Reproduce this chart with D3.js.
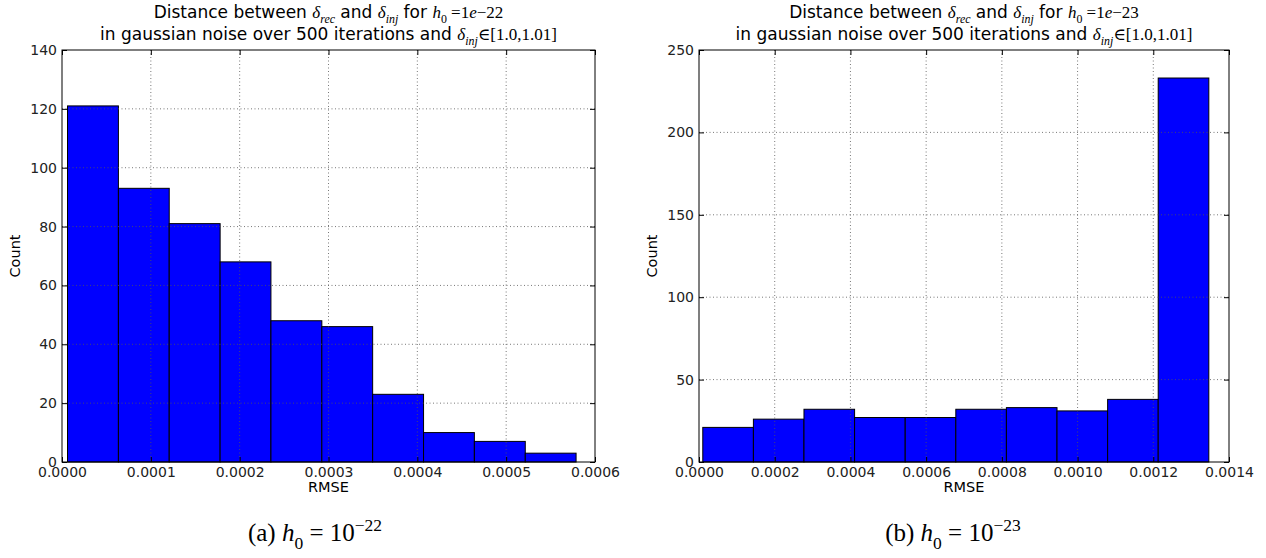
<!DOCTYPE html>
<html>
<head>
<meta charset="utf-8">
<script src="https://cdn.jsdelivr.net/npm/d3@7"></script>
<style>
  body { margin: 0; background: #fff; }
  text { white-space: pre; }
</style>
</head>
<body>
<svg id="chart"></svg>
<script>
// histogram (a): h0 = 1e-22
const edgesA = [0.0000062, 0.0000635, 0.0001207, 0.0001780, 0.0002352, 0.0002925,
                0.0003497, 0.0004070, 0.0004642, 0.0005215, 0.0005787];
const countsA = [121, 93, 81, 68, 48, 46, 23, 10, 7, 3];
const xTicksA = [0, 0.0001, 0.0002, 0.0003, 0.0004, 0.0005, 0.0006];
const yTicksA = [0, 20, 40, 60, 80, 100, 120, 140];

// histogram (b): h0 = 1e-23
const edgesB = [0.0000100, 0.0001437, 0.0002773, 0.0004110, 0.0005447, 0.0006784,
                0.0008120, 0.0009457, 0.0010794, 0.0012130, 0.0013467];
const countsB = [21, 26, 32, 27, 27, 32, 33, 31, 38, 233];
const xTicksB = [0, 0.0002, 0.0004, 0.0006, 0.0008, 0.0010, 0.0012, 0.0014];
const yTicksB = [0, 50, 100, 150, 200, 250];

const width = 1266, height = 558;
const sans = "'DejaVu Sans', sans-serif";
const serif = "'Liberation Serif', 'DejaVu Serif', serif";
const titleSize = 17, tickSize = 14, labelSize = 14.5, capSize = 25;

const svg = d3.select("#chart")
    .attr("width", width)
    .attr("height", height)
    .attr("viewBox", [0, 0, width, height]);

// appends pieces of text, with math bits in serif / italic and sub/superscripts
function richText(sel, parts, size) {
    let shift = 0;
    parts.forEach(p => {
        const target = p.sub ? size * 0.3 : p.sup ? -size * 0.42 : 0;
        const ts = sel.append("tspan")
            .attr("dy", target - shift)
            .text(p.t);
        shift = target;
        if (p.serif) ts.attr("font-family", serif);
        if (p.it) ts.attr("font-style", "italic");
        if (p.sub || p.sup) ts.attr("font-size", size * 0.7);
    });
}

function drawHist(cfg) {
    const top = 50, bottom = 462;
    const x = d3.scaleLinear().domain([0, cfg.xTicks[cfg.xTicks.length - 1]]).range([cfg.left, cfg.right]);
    const y = d3.scaleLinear().domain([0, cfg.yTicks[cfg.yTicks.length - 1]]).range([bottom, top]);

    const g = svg.append("g");
    const bins = cfg.counts.map((c, i) => ({ x0: cfg.edges[i], x1: cfg.edges[i + 1], n: c }));

    g.selectAll(".bar")
      .data(bins)
      .join("rect")
        .attr("class", "bar")
        .attr("x", d => x(d.x0))
        .attr("y", d => y(d.n))
        .attr("width", d => x(d.x1) - x(d.x0))
        .attr("height", d => y(0) - y(d.n))
        .attr("fill", "#0000ff")
        .attr("stroke", "#000")
        .attr("stroke-width", 1);

    // dotted grid, drawn over the bars like matplotlib classic
    g.append("g")
      .selectAll("line")
      .data(cfg.xTicks.slice(1, -1))
      .join("line")
        .attr("x1", d => x(d)).attr("x2", d => x(d))
        .attr("y1", top).attr("y2", bottom)
        .attr("stroke", "#555").attr("stroke-width", 0.8)
        .attr("stroke-dasharray", "1,2.5");

    g.append("g")
      .selectAll("line")
      .data(cfg.yTicks.slice(1, -1))
      .join("line")
        .attr("x1", cfg.left).attr("x2", cfg.right)
        .attr("y1", d => y(d)).attr("y2", d => y(d))
        .attr("stroke", "#555").attr("stroke-width", 0.8)
        .attr("stroke-dasharray", "1,2.5");

    // axes with inward ticks on all four sides
    const styleAxis = a => {
        a.select(".domain").remove();
        a.selectAll(".tick line").attr("stroke", "#000");
        a.selectAll("text").attr("font-family", sans).attr("font-size", tickSize).attr("fill", "#222");
    };

    g.append("g")
        .attr("transform", `translate(0,${bottom})`)
        .call(d3.axisBottom(x).tickValues(cfg.xTicks).tickSize(-5).tickPadding(5).tickFormat(d3.format(".4f")))
        .call(styleAxis);

    g.append("g")
        .attr("transform", `translate(0,${top})`)
        .call(d3.axisTop(x).tickValues(cfg.xTicks).tickSize(-5).tickFormat(""))
        .call(styleAxis);

    g.append("g")
        .attr("transform", `translate(${cfg.left},0)`)
        .call(d3.axisLeft(y).tickValues(cfg.yTicks).tickSize(-5).tickPadding(5).tickFormat(d3.format("d")))
        .call(styleAxis);

    g.append("g")
        .attr("transform", `translate(${cfg.right},0)`)
        .call(d3.axisRight(y).tickValues(cfg.yTicks).tickSize(-5).tickFormat(""))
        .call(styleAxis);

    g.append("rect")
        .attr("x", cfg.left).attr("y", top)
        .attr("width", cfg.right - cfg.left).attr("height", bottom - top)
        .attr("fill", "none").attr("stroke", "#000").attr("stroke-width", 1);

    const cx = (cfg.left + cfg.right) / 2;

    g.append("text")
        .attr("x", cx).attr("y", 492)
        .attr("text-anchor", "middle")
        .attr("font-family", sans).attr("font-size", labelSize)
        .text("RMSE");

    g.append("text")
        .attr("transform", `translate(${cfg.left - 42},${(top + bottom) / 2}) rotate(-90)`)
        .attr("text-anchor", "middle")
        .attr("font-family", sans).attr("font-size", labelSize)
        .text("Count");

    const t1 = g.append("text")
        .attr("x", cx).attr("y", 18)
        .attr("text-anchor", "middle")
        .attr("font-family", sans).attr("font-size", titleSize);
    richText(t1, [
        { t: "Distance between " },
        { t: "δ", serif: true, it: true }, { t: "rec", serif: true, it: true, sub: true },
        { t: " and " },
        { t: "δ", serif: true, it: true }, { t: "inj", serif: true, it: true, sub: true },
        { t: " for " },
        { t: "h", serif: true, it: true }, { t: "0", serif: true, sub: true },
        { t: " =1", serif: true }, { t: "e", serif: true, it: true }, { t: "−" + cfg.exp, serif: true }
    ], titleSize);

    const t2 = g.append("text")
        .attr("x", cx).attr("y", 40)
        .attr("text-anchor", "middle")
        .attr("font-family", sans).attr("font-size", titleSize);
    richText(t2, [
        { t: "in gaussian noise over 500 iterations and " },
        { t: "δ", serif: true, it: true }, { t: "inj", serif: true, it: true, sub: true },
        { t: "∈[1.0,1.01]", serif: true }
    ], titleSize);

    const cap = g.append("text")
        .attr("x", cfg.capX).attr("y", 541)
        .attr("text-anchor", "middle")
        .attr("font-family", serif).attr("font-size", capSize);
    richText(cap, [
        { t: cfg.letter + " " },
        { t: "h", it: true }, { t: "0", sub: true },
        { t: " = 10" },
        { t: "−" + cfg.exp, sup: true }
    ], capSize);
}

drawHist({ left: 62, right: 595, edges: edgesA, counts: countsA, xTicks: xTicksA, yTicks: yTicksA,
           exp: "22", letter: "(a)", capX: 315 });
drawHist({ left: 699, right: 1229, edges: edgesB, counts: countsB, xTicks: xTicksB, yTicks: yTicksB,
           exp: "23", letter: "(b)", capX: 953 });
</script>
</body>
</html>
